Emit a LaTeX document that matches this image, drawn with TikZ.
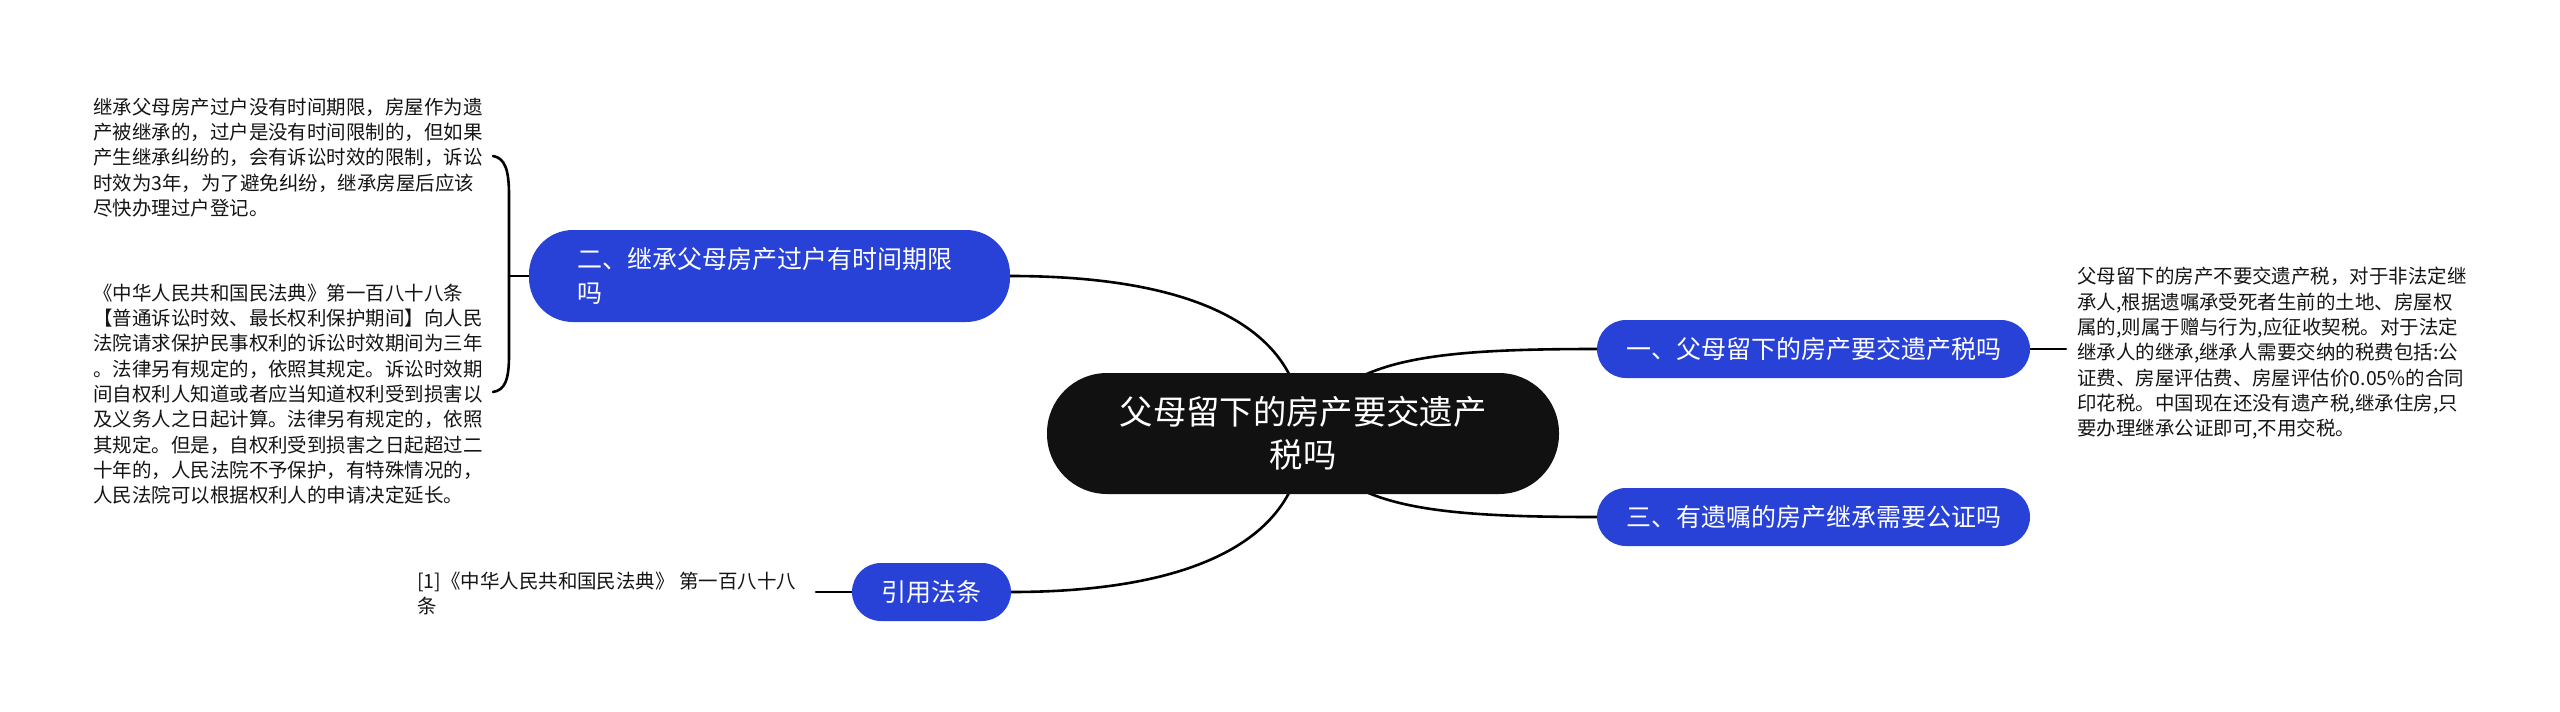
\documentclass[tikz,border=0pt]{standalone}
\usepackage{fontspec}
\setmainfont{Noto Sans CJK SC}
\usetikzlibrary{backgrounds}
\definecolor{topicblue}{RGB}{40,65,215}
\definecolor{rootblack}{RGB}{17,17,17}
\definecolor{bodytext}{RGB}{20,20,20}
\newcommand\bodyfont{\fontsize{14.6pt}{19pt}\selectfont}
\newcommand\topicfont{\fontsize{18.75pt}{25.5pt}\selectfont}
\newcommand\rootfont{\fontsize{25pt}{32.25pt}\selectfont}
\tikzset{
  topic/.style={fill=topicblue, text=white, font=\topicfont, inner sep=0pt,
    minimum height=43.5pt, rounded corners=21.75pt},
  rootnode/.style={fill=rootblack, text=white, font=\rootfont, align=center,
    inner sep=0pt, minimum width=384pt, minimum height=90.75pt, rounded corners=45pt},
  bodytxt/.style={font=\bodyfont, text=bodytext, align=left, inner sep=0pt, anchor=west},
  conn/.style={draw=black, line width=1.95pt, line cap=round}
}
\begin{document}
\begin{tikzpicture}[x=0.75pt,y=-0.75pt]
\useasboundingbox (0,0) rectangle (2560,711);

% central
\node[rootnode] (root) at (1303,433.5) {父母留下的房产要交遗产\\税吗};

% topics
\node[topic, minimum width=324.75pt] (n1) at (1813.5,349) {一、父母留下的房产要交遗产税吗};
\node[topic, minimum width=324.75pt] (n3) at (1813.5,517) {三、有遗嘱的房产继承需要公证吗};
\node[topic, minimum width=360.75pt, minimum height=69pt, rounded corners=33pt,
      text width=288.75pt, align=left] (n2) at (769.5,276) {二、继承父母房产过户有时间期限\\吗};
\node[topic, minimum width=119.25pt] (n4) at (931.5,592) {引用法条};

% body texts
\node[bodytxt] (t1) at (2077,353.5) {父母留下的房产不要交遗产税，对于非法定继\\%
承人,根据遗嘱承受死者生前的土地、房屋权\\%
属的,则属于赠与行为,应征收契税。对于法定\\%
继承人的继承,继承人需要交纳的税费包括:公\\%
证费、房屋评估费、房屋评估价0.05\%的合同\\%
印花税。中国现在还没有遗产税,继承住房,只\\%
要办理继承公证即可,不用交税。};

\node[bodytxt] (t2a) at (93,157.5) {继承父母房产过户没有时间期限，房屋作为遗\\%
产被继承的，过户是没有时间限制的，但如果\\%
产生继承纠纷的，会有诉讼时效的限制，诉讼\\%
时效为3年，为了避免纠纷，继承房屋后应该\\%
尽快办理过户登记。};

\node[bodytxt] (t2b) at (93,394) {《中华人民共和国民法典》第一百八十八条\\%
【普通诉讼时效、最长权利保护期间】向人民\\%
法院请求保护民事权利的诉讼时效期间为三年\\%
。法律另有规定的，依照其规定。诉讼时效期\\%
间自权利人知道或者应当知道权利受到损害以\\%
及义务人之日起计算。法律另有规定的，依照\\%
其规定。但是，自权利受到损害之日起超过二\\%
十年的，人民法院不予保护，有特殊情况的，\\%
人民法院可以根据权利人的申请决定延长。};

\node[bodytxt] (t4) at (417,593.5) {[1]《中华人民共和国民法典》 第一百八十八\\%
条};

% free ends
\coordinate (e1) at (2066,349);
\coordinate (e4) at (816,592);
\coordinate (jn) at (509,276);
\coordinate (b1) at (493,156);
\coordinate (b2) at (493,392);

\begin{scope}[on background layer]
  \draw[conn] (n2.east) .. controls (1200,276) and (1303,330) .. (root.center);
  \draw[conn] (n4.east) .. controls (1200,592) and (1303,536) .. (root.center);
  \draw[conn] (root.center) .. controls (1340,360) and (1420,349) .. (n1.west);
  \draw[conn] (root.center) .. controls (1340,506) and (1420,517) .. (n3.west);
  \draw[conn] (n1.east) -- (e1);
  \draw[conn] (n4.west) -- (e4);
  \draw[conn] (n2.west) -- (jn);
  \draw[conn] (b1) .. controls (505,158) and (509,170) .. (509,195) -- (509,355)
              .. controls (509,380) and (505,390) .. (b2);
\end{scope}
\end{tikzpicture}
\end{document}
